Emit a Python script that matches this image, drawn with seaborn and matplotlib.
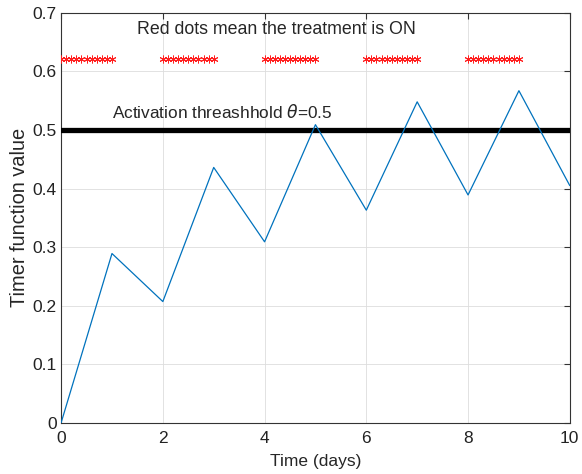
import seaborn as sns
import matplotlib.pyplot as plt
import pandas as pd

# Datos
t_days = [0, 1, 2, 3, 4, 5, 6, 7, 8, 9, 10]
timer_value = [0.0, 0.289, 0.207, 0.436, 0.309, 0.509, 0.363, 0.548, 0.389, 0.567, 0.405]

# Intervalos con tratamiento activo (puntos rojos)
on_starts = [0, 2, 4, 6, 8]
dot_step = 0.1
dot_level = 0.621
threshold = 0.5

sns.set_style("white")
plt.rcParams['font.family'] = ['Liberation Sans', 'DejaVu Sans']

df = pd.DataFrame({"t": t_days, "v": timer_value})
dots = pd.DataFrame({
    "t": [s + k * dot_step for s in on_starts for k in range(11)],
})
dots["v"] = dot_level

fig = plt.figure(figsize=(5.82, 4.74), dpi=100)
ax = fig.add_axes([0.105, 0.108, 0.874, 0.865])

ax.axhline(threshold, color="black", linewidth=3.8, zorder=3)
sns.lineplot(data=df, x="t", y="v", color="#0072BD", linewidth=0.9, ax=ax, zorder=4)
sns.scatterplot(data=dots, x="t", y="v", marker=(6, 2, 0), color="#ff2020", s=26,
                linewidth=0.7, ax=ax, zorder=5)

ax.text(1.5, 0.672, "Red dots mean the treatment is ON", fontsize=12.8, va="center")
ax.text(1.0, 0.531, r"Activation threashhold $\theta$=0.5", fontsize=12.4, va="center")

ax.set_xlim(0, 10)
ax.set_ylim(0, 0.7)
ax.set_xticks([0, 2, 4, 6, 8, 10])
ax.set_yticks([0, 0.1, 0.2, 0.3, 0.4, 0.5, 0.6, 0.7])
ax.set_yticklabels(["0", "0.1", "0.2", "0.3", "0.4", "0.5", "0.6", "0.7"])
ax.set_xlabel("Time (days)", fontsize=12.5, labelpad=6)
ax.set_ylabel("Timer function value", fontsize=14.4, labelpad=3)
ax.grid(True, color="#dddddd", linewidth=0.6)
ax.tick_params(direction="in", top=True, right=True, labelsize=12.5, length=4,
               color="#333333", labelcolor="#222222")
ax.tick_params(axis="x", pad=6)
ax.tick_params(axis="y", pad=3)
for sp in ax.spines.values():
    sp.set_color("#333333")
    sp.set_linewidth(0.8)

plt.savefig("out.png", dpi=100)
